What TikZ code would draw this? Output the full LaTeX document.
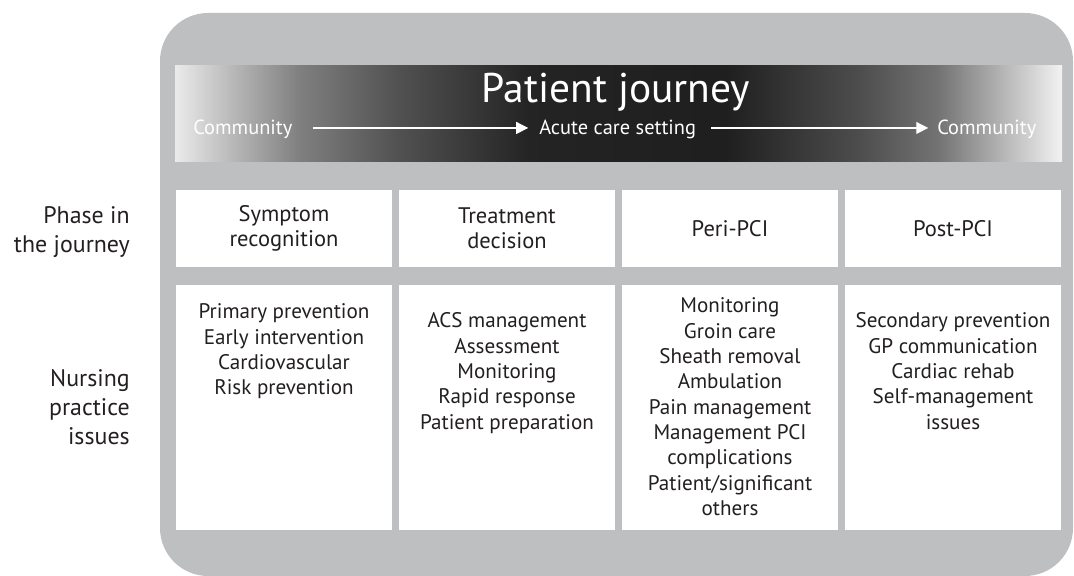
\documentclass[tikz,border=0pt]{standalone}
\usepackage{fontspec}
\setmainfont{PT Sans}
\usepackage{xcolor}
\definecolor{Frame Grey}{HTML}{BEBFC1}
\definecolor{Ink}{HTML}{231F20}
\colorlet{cFrame}{Frame Grey}
\colorlet{cInk}{Ink}
\usepackage{tikz}
\usetikzlibrary{arrows.meta, positioning}
\pgfdeclarehorizontalshading{journey}{100bp}{
	color(0bp)=(black!8); color(25bp)=(black!8); color(28.6bp)=(black!30);
	color(32bp)=(black!50); color(37.5bp)=(black!68); color(45bp)=(black!86);
	color(56bp)=(black!88); color(63.5bp)=(black!70); color(68bp)=(black!55);
	color(71.5bp)=(black!30); color(75bp)=(black!5); color(100bp)=(black!5)}
\tikzset{
	line width = .7pt,
	>={Triangle[length=8.5pt, width=8.5pt]},
	font = \fontsize{15}{18}\selectfont,
	banner/.style={
		text=white,
		inner sep=0pt,
		text height=10pt,
		text depth=0pt,
		font=\fontsize{14.5}{18}\selectfont
	},
	flow/.style={
		->,
		draw=white,
		line width=.8pt
	},
	phase/.style={
		fill=white,
		text=cInk,
		align=center,
		inner sep=0pt,
		minimum width=5.4cm,
		minimum height=1.925cm,
		font=\fontsize{16}{18}\selectfont
	},
	issue/.style={
		fill=white,
		inner sep=0pt,
		minimum width=5.4cm,
		minimum height=6.125cm
	},
	items/.style={
		text=cInk,
		align=center,
		inner sep=0pt,
		anchor=north
	},
	side/.style={
		text=cInk,
		align=right,
		inner sep=0pt,
		anchor=east,
		font=\fontsize{17}{20.5}\selectfont
	}
}

\begin{document}
\begin{tikzpicture}[x=.025cm, y=-.025cm]
		\useasboundingbox (0,0) rectangle (1074,576);
		\fill[cFrame, rounded corners=1.2cm] (160,13) rectangle (1073,576);
		\shade[shading=journey] (175,66) rectangle (1062,162);

		\node[banner, anchor=base, font=\fontsize{29.5}{32}\selectfont, text height=, text depth=] (title) at (616,103) {Patient journey};
		\node[banner, anchor=base west] (comL) at (193,135) {Community};
		\node[banner, anchor=base west] (acute) at (539,135) {Acute care setting};
		\node[banner, anchor=base west] (comR) at (937,135) {Community};
		\draw[flow, shorten <=.5cm, shorten >=.27cm] (comL.east) -- (acute.west);
		\draw[flow, shorten <=.37cm, shorten >=.22cm] (acute.east) -- (comR.west);

		\node[phase] (p1) at (284,228.5) {Symptom\\recognition};
		\node[phase] (p2) at (507,228.5) {Treatment\\decision};
		\node[phase] (p3) at (730,228.5) {Peri-PCI};
		\node[phase] (p4) at (953,228.5) {Post-PCI};

		\node[issue] (n1) at (284,407.5) {};
		\node[issue] (n2) at (507,407.5) {};
		\node[issue] (n3) at (730,407.5) {};
		\node[issue] (n4) at (953,407.5) {};

		\node[items, below=.475cm of n1.north] (i1) {Primary prevention\\Early intervention\\Cardiovascular\\Risk prevention};
		\node[items, below=.7cm of n2.north] (i2) {ACS management\\Assessment\\Monitoring\\Rapid response\\Patient preparation};
		\node[items, below=.325cm of n3.north] (i3) {Monitoring\\Groin care\\Sheath removal\\Ambulation\\Pain management\\Management PCI\\complications\\Patient/significant\\others};
		\node[items, below=.7cm of n4.north] (i4) {Secondary prevention\\GP communication\\Cardiac rehab\\Self-management\\issues};

		\node[side] (sPhase) at (130,232) {Phase in\\the journey};
		\node[side] (sNurse) at (130,407) {Nursing\\practice\\issues};
	\end{tikzpicture}
\end{document}
